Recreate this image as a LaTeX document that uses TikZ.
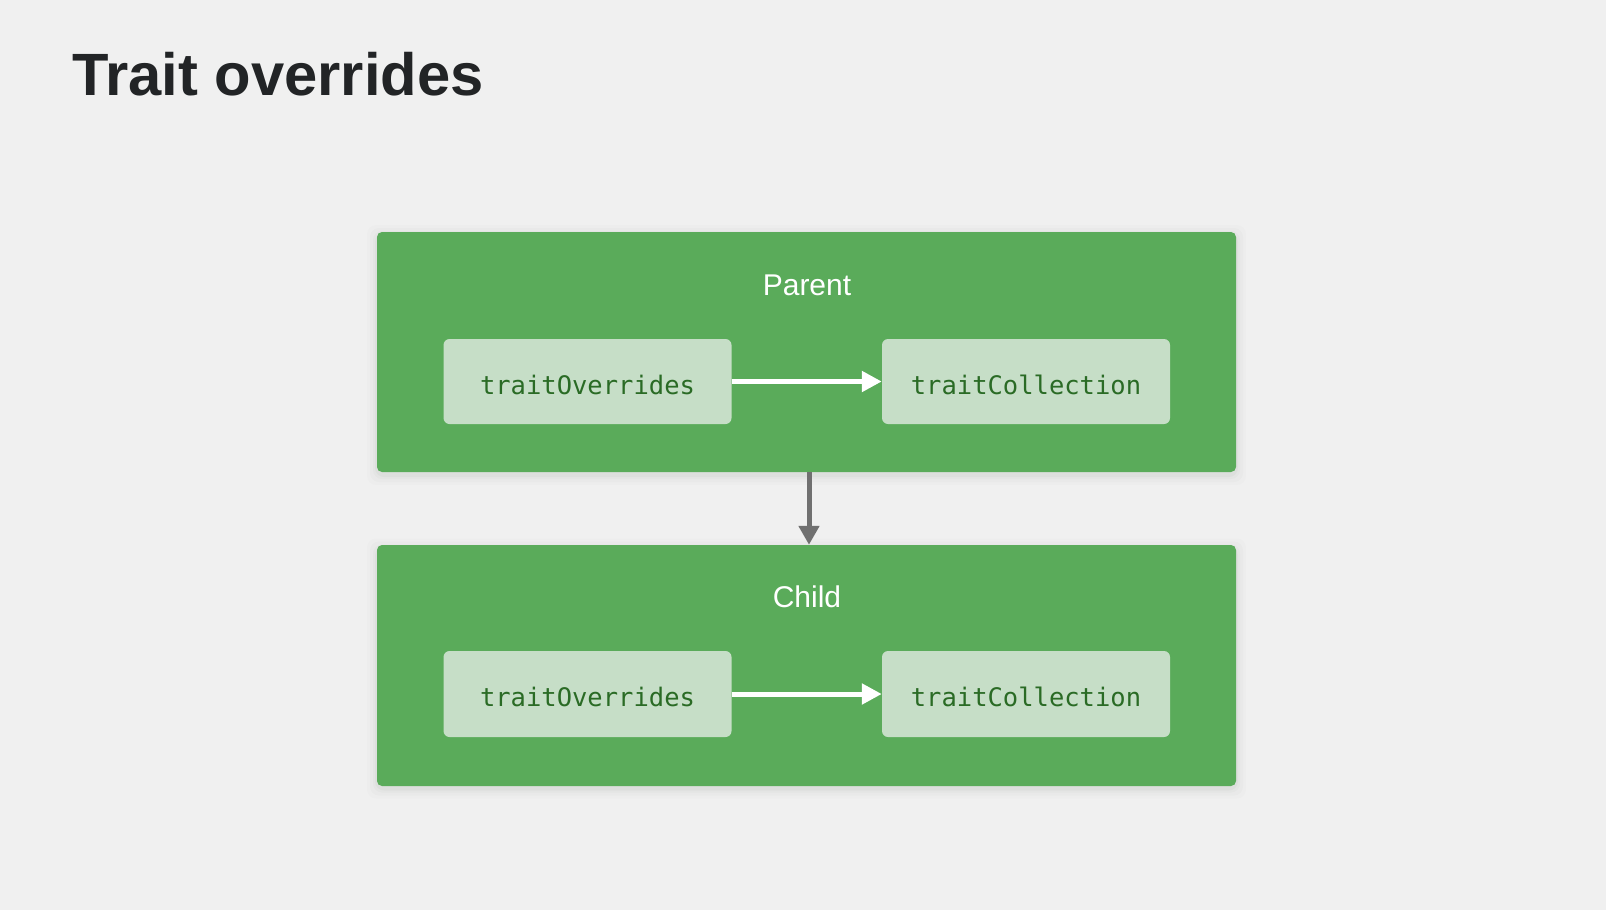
\documentclass[tikz,border=0pt]{standalone}
\usepackage{fontspec}
\setmainfont{Liberation Sans}
\setmonofont{DejaVu Sans Mono}
\usetikzlibrary{arrows.meta}
\definecolor{bgc}{HTML}{F0F0F0}
\definecolor{boxgreen}{HTML}{5AAB5A}
\definecolor{innergreen}{HTML}{C6DEC7}
\definecolor{codegreen}{HTML}{2A6B25}
\definecolor{titlec}{HTML}{222426}
\definecolor{arrowgray}{HTML}{707070}
\tikzset{
  outerbox/.style={fill=boxgreen, rounded corners=5pt, minimum width=859pt, minimum height=240pt, inner sep=0pt},
  innerbox/.style={fill=innergreen, rounded corners=6pt, minimum width=288pt, minimum height=85pt, inner sep=0pt,
    text height=25pt, text depth=0pt,
    font=\fontsize{25.5}{30}\selectfont\ttfamily, text=codegreen},
  boxlabel/.style={font=\fontsize{30}{36}\selectfont, text=white, inner sep=0pt},
  whitearrow/.style={draw=white, line width=5pt, -{Triangle[length=20pt,width=20pt]}},
  grayarrow/.style={draw=arrowgray, line width=5pt, -{Triangle[length=19pt,width=20pt]}},
}
\begin{document}
\begin{tikzpicture}[x=1pt,y=-1pt]
\fill[bgc] (0,0) rectangle (1606,910);
\useasboundingbox (0,0) rectangle (1606,910);
% title
\node[anchor=base west, inner sep=0pt, font=\fontsize{59.7}{70}\selectfont\bfseries, text=titlec] (title) at (72,95) {Trait overrides};
% soft shadows
\foreach \yy in {352,665.5}{
  \foreach \d/\o in {10/0.012,7/0.018,4/0.025,2/0.03}{
    \fill[black!60!boxgreen, opacity=\o, rounded corners=9pt] (377-\d,\yy-120-\d+3) rectangle (1236+\d,\yy+120+\d+3);
  }
}
% parent
\node[outerbox] (parent) at (806.5,352) {};
\node[boxlabel] (plabel) at (807,285) {Parent};
\node[innerbox] (pto) at (587.5,381.5) {traitOverrides};
\node[innerbox] (ptc) at (1026,381.5) {traitCollection};
% child
\node[outerbox, minimum height=241pt] (child) at (806.5,665.5) {};
\node[boxlabel] (clabel) at (807,597) {Child};
\node[innerbox, minimum height=86pt] (cto) at (587.5,694) {traitOverrides};
\node[innerbox, minimum height=86pt] (ctc) at (1026,694) {traitCollection};
% arrows
\coordinate (gx) at (809,0);
\draw[whitearrow] (pto.east) -- (ptc.west);
\draw[whitearrow] (cto.east) -- (ctc.west);
\draw[grayarrow] (parent.south -| gx) -- (child.north -| gx);
\end{tikzpicture}
\end{document}
